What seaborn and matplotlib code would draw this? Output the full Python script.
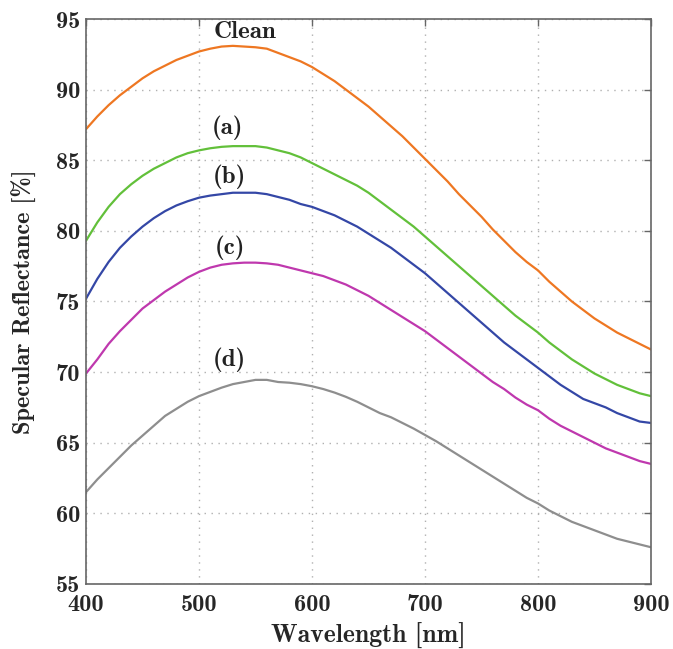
import numpy as np
import pandas as pd
import matplotlib
matplotlib.use("Agg")
import matplotlib.pyplot as plt
import seaborn as sns

wavelength = list(range(400, 901, 10))

clean = [87.2, 88.1, 88.9, 89.6, 90.2, 90.8, 91.3, 91.7, 92.1, 92.4,
         92.7, 92.9, 93.05, 93.1, 93.05, 93.0, 92.9, 92.6, 92.3, 92.0,
         91.6, 91.1, 90.6, 90.0, 89.4, 88.8, 88.1, 87.4, 86.7, 85.9,
         85.1, 84.3, 83.5, 82.6, 81.8, 81.0, 80.1, 79.3, 78.5, 77.8,
         77.2, 76.4, 75.7, 75.0, 74.4, 73.8, 73.3, 72.8, 72.4, 72.0, 71.6]
curve_a = [79.3, 80.6, 81.7, 82.6, 83.3, 83.9, 84.4, 84.8, 85.2, 85.5,
           85.7, 85.85, 85.95, 86.0, 86.0, 86.0, 85.9, 85.7, 85.5, 85.2,
           84.8, 84.4, 84.0, 83.6, 83.2, 82.7, 82.1, 81.5, 80.9, 80.3,
           79.6, 78.9, 78.2, 77.5, 76.8, 76.1, 75.4, 74.7, 74.0, 73.4,
           72.8, 72.1, 71.5, 70.9, 70.4, 69.9, 69.5, 69.1, 68.8, 68.5, 68.3]
curve_b = [75.2, 76.6, 77.8, 78.8, 79.6, 80.3, 80.9, 81.4, 81.8, 82.1,
           82.35, 82.5, 82.6, 82.7, 82.7, 82.7, 82.6, 82.4, 82.2, 81.9,
           81.7, 81.4, 81.1, 80.7, 80.3, 79.8, 79.3, 78.8, 78.2, 77.6,
           77.0, 76.3, 75.6, 74.9, 74.2, 73.5, 72.8, 72.1, 71.5, 70.9,
           70.3, 69.7, 69.1, 68.6, 68.1, 67.8, 67.5, 67.1, 66.8, 66.5, 66.4]
curve_c = [69.9, 70.9, 72.0, 72.9, 73.7, 74.5, 75.1, 75.7, 76.2, 76.7,
           77.1, 77.4, 77.6, 77.7, 77.75, 77.75, 77.7, 77.6, 77.4, 77.2,
           77.0, 76.8, 76.5, 76.2, 75.8, 75.4, 74.9, 74.4, 73.9, 73.4,
           72.9, 72.3, 71.7, 71.1, 70.5, 69.9, 69.3, 68.8, 68.2, 67.7,
           67.3, 66.7, 66.2, 65.8, 65.4, 65.0, 64.6, 64.3, 64.0, 63.7, 63.5]
curve_d = [61.5, 62.4, 63.2, 64.0, 64.8, 65.5, 66.2, 66.9, 67.4, 67.9,
           68.3, 68.6, 68.9, 69.15, 69.3, 69.45, 69.45, 69.3, 69.25, 69.15,
           69.0, 68.8, 68.55, 68.25, 67.9, 67.5, 67.1, 66.8, 66.4, 66.0,
           65.55, 65.1, 64.6, 64.1, 63.6, 63.1, 62.6, 62.1, 61.6, 61.1,
           60.7, 60.2, 59.8, 59.4, 59.1, 58.8, 58.5, 58.2, 58.0, 57.8, 57.6]

series_names = ["Clean", "(a)", "(b)", "(c)", "(d)"]
series_values = [clean, curve_a, curve_b, curve_c, curve_d]
colors = ["#EE7722", "#62C03A", "#3447A6", "#BF38AE", "#8E8E8E"]
label_pos = [(541, 94.1), (525, 87.3), (527, 83.8), (527, 78.8), (527, 70.9)]

x_ticks = [400, 500, 600, 700, 800, 900]
y_ticks = [55, 60, 65, 70, 75, 80, 85, 90, 95]

rows = []
for name, vals in zip(series_names, series_values):
    for w, v in zip(wavelength, vals):
        rows.append({"Wavelength": w, "Reflectance": v, "Sample": name})
df = pd.DataFrame(rows)

sns.set_style("white")
plt.rcParams["font.family"] = ["cmb10", "DejaVu Serif"]
plt.rcParams["axes.unicode_minus"] = False

fig = plt.figure(figsize=(6.73, 6.49), dpi=100)
ax = fig.add_axes([0.1278, 0.1002, 0.8395, 0.8705])

sns.lineplot(data=df, x="Wavelength", y="Reflectance", hue="Sample",
             hue_order=series_names, palette=colors, linewidth=1.6,
             legend=False, ax=ax)

ax.set_xlim(400, 900)
ax.set_ylim(55, 95)
ax.set_xticks(x_ticks)
ax.set_yticks(y_ticks)
ax.set_xticklabels([str(t) for t in x_ticks])
ax.set_yticklabels([str(t) for t in y_ticks])
ax.grid(True, linestyle=(0, (1, 4)), color="#b0b0b0", linewidth=1.0)
ax.tick_params(direction="in", length=5, width=1, color="#666666",
               top=True, right=True, labelsize=17.5, pad=4)
ax.tick_params(axis="x", pad=7)
for s in ax.spines.values():
    s.set_color("#666666")
    s.set_linewidth(1.2)

ax.set_xlabel("Wavelength [nm]", fontsize=18.5, labelpad=5)
ax.set_ylabel("Specular Reflectance [%]", fontsize=17.5, labelpad=14)

for name, (lx, ly) in zip(series_names, label_pos):
    ax.text(lx, ly, name, fontsize=18, ha="center", va="center", color="#222222")

fig.savefig("out.png", dpi=100)
